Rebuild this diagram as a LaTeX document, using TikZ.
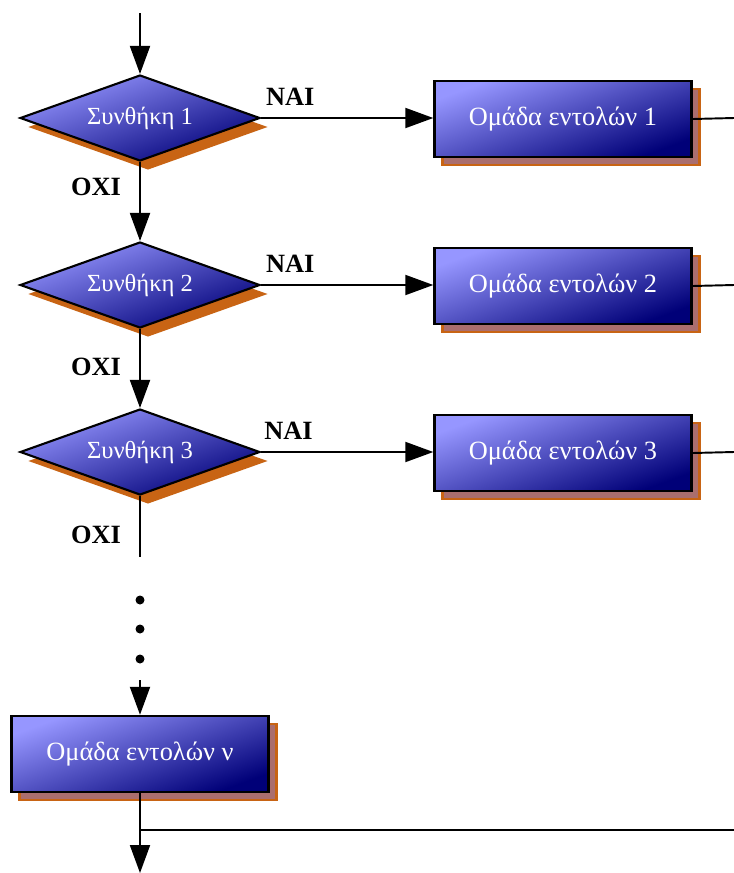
\documentclass[tikz,border=0pt]{standalone}
\usepackage{fontspec}
\setmainfont{Liberation Serif}
\usetikzlibrary{shapes.geometric,shadows,arrows.meta}

\definecolor{boxtop}{RGB}{150,150,255}
\definecolor{boxbottom}{RGB}{0,0,120}
\definecolor{shadoworange}{RGB}{200,100,20}
\definecolor{shadowmauve}{RGB}{170,110,110}

\tikzstyle{decision}=[diamond,draw=black,line width=1.2pt,aspect=2.79,minimum width=4.8cm,minimum height=1.72cm,inner sep=0pt,top color=boxtop,bottom color=boxbottom,shading angle=20,text=white,font=\fontsize{14}{16}\selectfont,drop shadow={shadow xshift=0.16cm,shadow yshift=-0.18cm,fill=shadoworange,opacity=1}]
\tikzstyle{block}=[rectangle,draw=black,line width=1.4pt,minimum width=5.14cm,minimum height=1.52cm,top color=boxtop,bottom color=boxbottom,shading angle=20,text=white,font=\fontsize{15}{17}\selectfont,drop shadow={shadow xshift=0.16cm,shadow yshift=-0.16cm,draw=shadoworange,fill=shadowmauve,opacity=1}]
\tikzstyle{answer}=[font=\bfseries\fontsize{15}{17}\selectfont]
\tikzstyle{dot}=[circle,fill=black,minimum size=0.18cm,inner sep=0pt]

\begin{document}
\begin{tikzpicture}[x=0.02cm,y=-0.02cm,line width=1.1pt,
	flow/.style={-{Triangle[length=0.56cm,width=0.4cm]}}]
	\useasboundingbox (0,0) rectangle (734,873);
	
	\coordinate (start) at (140,13);
	\node[decision] (c1) at (140,118) {Συνθήκη 1};
	\node[decision] (c2) at (140,285) {Συνθήκη 2};
	\node[decision] (c3) at (140,452) {Συνθήκη 3};
	\coordinate (c3end) at (140,557);
	
	\node[block] (b1) at (563,119) {Ομάδα εντολών 1};
	\node[block] (b2) at (563,286) {Ομάδα εντολών 2};
	\node[block] (b3) at (563,453) {Ομάδα εντολών 3};
	\coordinate (o1) at (734,118);
	\coordinate (o2) at (734,285);
	\coordinate (o3) at (734,452);
	
	\node[dot] (d1) at (140,600) {};
	\node[dot] (d2) at (140,629) {};
	\node[dot] (d3) at (140,659) {};
	\coordinate (dotsend) at (140,680);
	
	\node[block] (bn) at (140,754) {Ομάδα εντολών ν};
	\coordinate (join) at (140,830);
	\coordinate (joinright) at (734,830);
	\coordinate (finish) at (140,873);
	
	% conditions
	\draw[flow] (start)--(c1);
	\draw[flow] (c1)--(c2) node [answer, pos=0.32, left=7pt] {ΟΧΙ};
	\draw[flow] (c2)--(c3) node [answer, pos=0.48, left=7pt] {ΟΧΙ};
	\draw (c3)--(c3end) node [answer, pos=0.63, left=7pt] {ΟΧΙ};
	
	% yes branches
	\draw[flow] (c1.east)--(c1.east -| b1.west) node [answer, pos=0.17, above=3pt] {ΝΑΙ};
	\draw[flow] (c2.east)--(c2.east -| b2.west) node [answer, pos=0.17, above=3pt] {ΝΑΙ};
	\draw[flow] (c3.east)--(c3.east -| b3.west) node [answer, pos=0.16, above=3pt] {ΝΑΙ};
	\draw (b1.east)--(o1);
	\draw (b2.east)--(o2);
	\draw (b3.east)--(o3);
	
	% last block
	\draw[flow] (dotsend)--(bn);
	\draw[flow] (bn)--(finish);
	\draw (join)--(joinright);
\end{tikzpicture}
\end{document}
